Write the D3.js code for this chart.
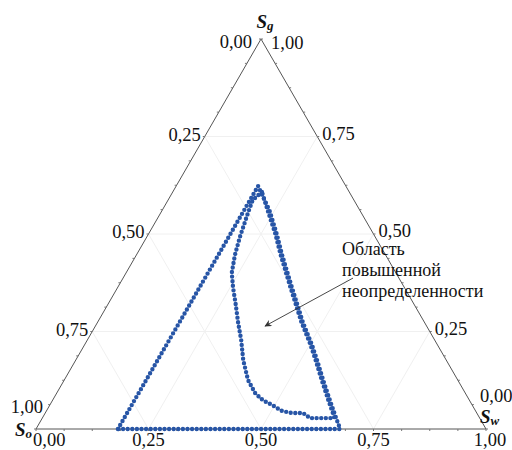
<!DOCTYPE html>
<html>
<head>
<meta charset="utf-8">
<script src="https://cdn.jsdelivr.net/npm/d3@7"></script>
<style>
  body { margin: 0; background: #fff; }
  text { font-family: "Liberation Serif", "Times New Roman", serif; fill: #111; }
</style>
</head>
<body>
<div id="chart"></div>
<script>
// tick values and their labels (same on all three sides)
var ticks = [0, 0.25, 0.5, 0.75, 1];
var tickLabels = ['0,00', '0,25', '0,50', '0,75', '1,00'];
var minorTicks = d3.range(0, 17).map(function (i) { return i / 16; });

// outer region boundary, [Sw, Sg]
var outerBoundary = [
    [0.182, 0.000], [0.182, 0.623], [0.198, 0.605], [0.239, 0.560], [0.285, 0.500],
    [0.324, 0.446], [0.388, 0.362], [0.456, 0.274], [0.506, 0.215], [0.536, 0.177],
    [0.575, 0.126], [0.616, 0.074], [0.657, 0.023], [0.676, 0.000], [0.182, 0.000]
];

// inner region (zone of higher uncertainty), [Sw, Sg]
var innerBoundary = [
    [0.198, 0.608], [0.188, 0.587], [0.194, 0.554], [0.207, 0.492], [0.219, 0.446],
    [0.235, 0.400], [0.257, 0.362], [0.285, 0.318], [0.312, 0.274], [0.342, 0.228],
    [0.372, 0.177], [0.408, 0.126], [0.441, 0.092], [0.467, 0.074], [0.493, 0.062],
    [0.524, 0.046], [0.548, 0.041], [0.573, 0.041], [0.595, 0.028], [0.639, 0.028],
    [0.648, 0.028], [0.648, 0.030], [0.611, 0.076], [0.571, 0.127], [0.532, 0.178],
    [0.502, 0.216], [0.452, 0.275], [0.384, 0.363], [0.320, 0.447], [0.282, 0.500],
    [0.235, 0.560], [0.198, 0.608]
];

var annotationLines = ['Область', 'повышенной', 'неопределенности'];
var annotationText = [0.457, 0.446];   // [Sw, Sg] of first line
var annotationArrow = [[0.511, 0.387], [0.377, 0.264]];

var width = 512, height = 450;
var color = '#2755a6';

// x maps Sw + Sg/2, y maps Sg
var x = d3.scaleLinear().domain([0, 1]).range([36, 486]);
var y = d3.scaleLinear().domain([0, 1]).range([429, 39]);

function pt(sw, sg) {
    return [x(sw + sg / 2), y(sg)];
}

var svg = d3.select('#chart').append('svg')
    .attr('width', width)
    .attr('height', height);

svg.append('defs').append('marker')
    .attr('id', 'arrow')
    .attr('viewBox', '0 0 10 10')
    .attr('refX', 9).attr('refY', 5)
    .attr('markerWidth', 9).attr('markerHeight', 7)
    .attr('markerUnits', 'userSpaceOnUse')
    .attr('orient', 'auto')
    .append('path')
    .attr('d', 'M0,0 L10,5 L0,10 L3,5 Z')
    .attr('fill', '#333');

var line = d3.line()
    .x(function (d) { return pt(d[0], d[1])[0]; })
    .y(function (d) { return pt(d[0], d[1])[1]; });

// grid lines
var grid = svg.append('g').attr('stroke', '#f0f0f0').attr('stroke-width', 1).attr('fill', 'none');
[0.25, 0.5, 0.75].forEach(function (v) {
    // constant Sg
    grid.append('path').attr('d', line([[0, v], [1 - v, v]]));
    // constant Sw
    grid.append('path').attr('d', line([[v, 0], [v, 1 - v]]));
    // constant So
    grid.append('path').attr('d', line([[1 - v, 0], [0, 1 - v]]));
});

// triangle frame
svg.append('path')
    .attr('d', line([[0, 0], [1, 0], [0, 1], [0, 0]]))
    .attr('fill', 'none')
    .attr('stroke', '#555')
    .attr('stroke-width', 1);

// minor tick marks
var tickG = svg.append('g').attr('stroke', '#777').attr('stroke-width', 1);
minorTicks.forEach(function (v) {
    var b = pt(v, 0);
    tickG.append('line').attr('x1', b[0]).attr('y1', b[1]).attr('x2', b[0]).attr('y2', b[1] + 2);
    var l = pt(0, 1 - v);
    tickG.append('line').attr('x1', l[0]).attr('y1', l[1]).attr('x2', l[0] - 2).attr('y2', l[1]);
    var r = pt(1 - v, v);
    tickG.append('line').attr('x1', r[0]).attr('y1', r[1]).attr('x2', r[0] + 2).attr('y2', r[1]);
});

// tick labels
var labels = svg.append('g').attr('font-size', 18.5);
ticks.forEach(function (v, i) {
    // left side: So (0 at apex, 1 at bottom-left)
    var l = pt(0, 1 - v);
    var ldx = -4, ldy = 4;
    if (v === 0) { ldx = -9; ldy = 9; }
    if (v === 1) { ldx = 7; ldy = -16; }
    labels.append('text').attr('x', l[0] + ldx).attr('y', l[1] + ldy)
        .attr('text-anchor', 'end').text(tickLabels[i]);

    // right side: Sg (1 at apex, 0 at bottom-right)
    var r = pt(1 - v, v);
    var rdx = 5, rdy = 3;
    if (v === 1) { rdx = 10; rdy = 10; }
    if (v === 0) { rdx = -6; rdy = -27; }
    labels.append('text').attr('x', r[0] + rdx).attr('y', r[1] + rdy)
        .attr('text-anchor', 'start').text(tickLabels[i]);

    // bottom: Sw
    var b = pt(v, 0);
    var bdx = 0, anchor = 'middle';
    if (v === 0) { bdx = -3; anchor = 'start'; }
    if (v === 1) { bdx = 4; }
    labels.append('text').attr('x', b[0] + bdx).attr('y', b[1] + 17)
        .attr('text-anchor', anchor).text(tickLabels[i]);
});

// axis titles
function title(p, dx, dy, sub, anchor) {
    var t = svg.append('text')
        .attr('x', p[0] + dx).attr('y', p[1] + dy)
        .attr('text-anchor', anchor)
        .attr('font-size', 19)
        .attr('font-weight', 'bold')
        .attr('font-style', 'italic');
    t.append('tspan').text('S');
    t.append('tspan').attr('font-size', 13).attr('dy', 2).text(sub);
}
title(pt(0, 1), 4, -11, 'g', 'middle');
title(pt(0, 0), -21, 7, 'o', 'start');
title(pt(1, 0), -6, -6, 'w', 'start');

// data boundaries drawn as dotted lines
[outerBoundary, innerBoundary].forEach(function (data) {
    svg.append('path')
        .attr('d', line(data))
        .attr('fill', 'none')
        .attr('stroke', color)
        .attr('stroke-width', 4.4)
        .attr('stroke-linecap', 'round')
        .attr('stroke-linejoin', 'round')
        .attr('stroke-dasharray', '0 4.6');
});

// annotation
var tp = pt(annotationText[0], annotationText[1]);
var ann = svg.append('text').attr('font-size', 18);
annotationLines.forEach(function (s, i) {
    ann.append('tspan').attr('x', tp[0]).attr('y', tp[1] + i * 21).text(s);
});
svg.append('path')
    .attr('d', line(annotationArrow))
    .attr('stroke', '#333')
    .attr('stroke-width', 0.9)
    .attr('marker-end', 'url(#arrow)');
</script>
</body>
</html>
